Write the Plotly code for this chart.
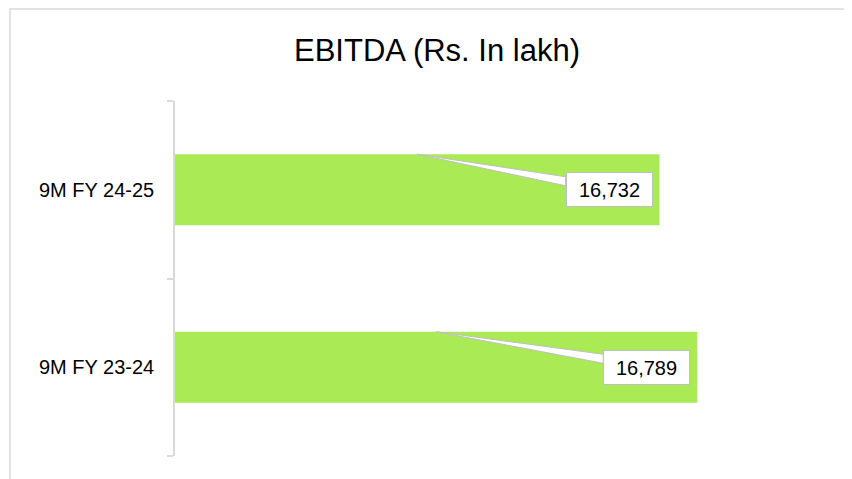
import plotly.graph_objects as go

categories = ["9M FY 23-24", "9M FY 24-25"]
ebitda = [16789, 16732]
value_labels = ["16,789", "16,732"]
x_min, x_max = 16000, 17000

W, H = 852, 479
OFF = 8  # page body margin offset compensation
ML, MR, MT, MB = 175 - OFF, 15 + OFF, 101 - OFF, 23 + OFF
PW, PH = W - ML - MR, H - MT - MB
BAR_W = 0.4
BAR_COLOR = "#A9EA55"
GRAY = "#D9D9D9"
BOX_GRAY = "#BFBFBF"
FONT = "Liberation Sans, Arial, sans-serif"

x_per_px = (x_max - x_min) / PW
y_per_px = 2.0 / PH

fig = go.Figure()
fig.add_trace(go.Bar(
    x=ebitda, y=categories, orientation="h",
    marker=dict(color=BAR_COLOR, line=dict(width=0)),
    width=BAR_W, hoverinfo="skip",
))

shapes = []
annotations = []
gap_px, box_w_px = 7, 87
for i, (v, lab) in enumerate(zip(ebitda, value_labels)):
    tip_x = (x_min + v) / 2
    tip_y = i + BAR_W / 2
    bx = v - (gap_px + box_w_px) * x_per_px
    y1 = i + 13 * y_per_px
    y2 = i + 4 * y_per_px
    shapes.append(dict(
        type="path", xref="x", yref="y",
        path=f"M {tip_x},{tip_y} L {bx},{y1} L {bx},{y2} Z",
        fillcolor="white", line=dict(color=BOX_GRAY, width=1), layer="above",
    ))
    annotations.append(dict(
        x=v, y=i, xref="x", yref="y", xanchor="right", yanchor="middle",
        xshift=-gap_px, text=lab, showarrow=False,
        font=dict(family=FONT, size=20, color="#000000"),
        bgcolor="white", bordercolor=BOX_GRAY, borderwidth=1, borderpad=1,
        width=box_w_px - 4, height=31, align="center",
    ))

# outer chart frame (left and top edges visible)
fx0 = (10 - OFF - ML) / PW
fy0 = (H - MB - (9 - OFF)) / PH
shapes.append(dict(type="rect", xref="paper", yref="paper",
                   x0=fx0, x1=1.2, y0=-0.3, y1=fy0,
                   line=dict(color=GRAY, width=1.5), fillcolor="rgba(0,0,0,0)",
                   layer="below"))

fig.update_layout(
    width=W, height=H,
    margin=dict(l=ML, r=MR, t=MT, b=MB),
    paper_bgcolor="white", plot_bgcolor="white",
    showlegend=False,
    title=dict(text="EBITDA (Rs. In lakh)", x=(437 - OFF) / W, xanchor="center",
               y=1 - (50 - OFF) / H, yanchor="middle", yref="container",
               font=dict(family=FONT, size=31, color="#000000")),
    xaxis=dict(range=[x_min, x_max], showgrid=False, zeroline=False,
               showticklabels=False, showline=False, ticks=""),
    yaxis=dict(type="category", categoryorder="array", categoryarray=categories,
               showline=True, linecolor=GRAY, linewidth=1.5,
               ticks="outside", tickson="boundaries", ticklen=6, tickcolor=GRAY,
               tickwidth=1.5, showgrid=False, zeroline=False,
               ticklabelstandoff=15,
               tickfont=dict(family=FONT, size=20, color="#000000")),
    shapes=shapes, annotations=annotations,
)

fig.write_html("out.html")
